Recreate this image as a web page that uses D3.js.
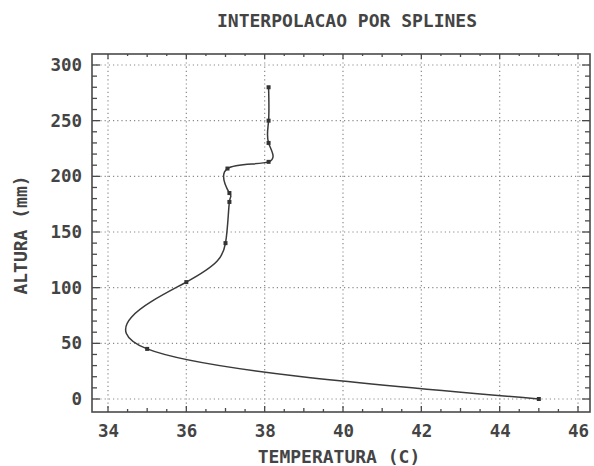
<!DOCTYPE html>
<html>
<head>
<meta charset="utf-8">
<script src="https://cdn.jsdelivr.net/npm/d3@7"></script>
<style>
  html, body { margin: 0; padding: 0; background: #fff; }
  svg { display: block; }
  text { font-family: "DejaVu Sans Mono", "Liberation Mono", monospace; font-weight: bold; fill: #444; }
</style>
</head>
<body>
<svg id="chart" width="594" height="466"></svg>
<script>
// ---- data ----
const temps   = [45.0, 35.0, 36.0, 37.0, 37.1, 37.1, 37.05, 38.1, 38.1, 38.1, 38.1];
const heights = [0, 45, 105, 140, 177, 185, 207, 213, 230, 250, 280];
const xTickLabels = [34, 36, 38, 40, 42, 44, 46];
const yTickLabels = [0, 50, 100, 150, 200, 250, 300];
const title = "INTERPOLACAO POR SPLINES";
const xTitle = "TEMPERATURA (C)";
const yTitle = "ALTURA (mm)";

// ---- layout ----
const svg = d3.select("#chart");
const frame = {left: 92, right: 590, top: 54, bottom: 412};
const x = d3.scaleLinear().domain([34, 46]).range([108, 578]);
const y = d3.scaleLinear().domain([0, 300]).range([399, 65]);
const ink = "#4a4a4a";

// gridlines (dotted)
const grid = svg.append("g").attr("stroke", "#8a8a8a").attr("stroke-width", 1.2)
  .attr("stroke-dasharray", "1.2,3");
grid.selectAll(".gx").data(xTickLabels).join("line")
  .attr("x1", d => x(d)).attr("x2", d => x(d))
  .attr("y1", frame.top).attr("y2", frame.bottom);
grid.selectAll(".gy").data(yTickLabels).join("line")
  .attr("x1", frame.left).attr("x2", frame.right)
  .attr("y1", d => y(d)).attr("y2", d => y(d));

// frame
svg.append("rect")
  .attr("x", frame.left).attr("y", frame.top)
  .attr("width", frame.right - frame.left).attr("height", frame.bottom - frame.top)
  .attr("fill", "none").attr("stroke", ink).attr("stroke-width", 1.6);

// ticks
const xMinor = d3.range(34, 46.01, 0.5);
const yMinor = d3.range(0, 300.1, 10);
const xLen = d => (d % 2 === 0 ? 6 : (d % 1 === 0 ? 4 : 3));
const yLen = d => (d % 50 === 0 ? 8 : 5);
const tk = svg.append("g").attr("stroke", ink).attr("stroke-width", 1.3);
tk.selectAll(".tb").data(xMinor).join("line")
  .attr("x1", d => x(d)).attr("x2", d => x(d))
  .attr("y1", frame.bottom).attr("y2", d => frame.bottom - xLen(d));
tk.selectAll(".tt").data(xMinor).join("line")
  .attr("x1", d => x(d)).attr("x2", d => x(d))
  .attr("y1", frame.top).attr("y2", d => frame.top + xLen(d) - 1);
tk.selectAll(".tl").data(yMinor).join("line")
  .attr("y1", d => y(d)).attr("y2", d => y(d))
  .attr("x1", frame.left).attr("x2", d => frame.left + yLen(d));
tk.selectAll(".tr").data(yMinor).join("line")
  .attr("y1", d => y(d)).attr("y2", d => y(d))
  .attr("x1", frame.right).attr("x2", d => frame.right - yLen(d));

// tick labels via d3 axes (tick marks hidden)
const xAxis = svg.append("g").attr("transform", `translate(0,${frame.bottom})`)
  .call(d3.axisBottom(x).tickValues(xTickLabels).tickSize(0).tickPadding(13));
const yAxis = svg.append("g").attr("transform", `translate(${frame.left},0)`)
  .call(d3.axisLeft(y).tickValues(yTickLabels).tickSize(0).tickPadding(10));
[xAxis, yAxis].forEach(g => {
  g.select(".domain").remove();
  g.selectAll("text").attr("font-size", 17.5).attr("font-family", "DejaVu Sans Mono")
    .attr("font-weight", "bold").attr("fill", "#444");
});
xAxis.selectAll("text").attr("dy", "0.71em");

// titles
svg.append("text").attr("x", 347).attr("y", 27).attr("text-anchor", "middle")
  .attr("font-size", 18).text(title);
svg.append("text").attr("x", 339).attr("y", 463).attr("text-anchor", "middle")
  .attr("font-size", 18).text(xTitle);
svg.append("text").attr("transform", "translate(27,235) rotate(-90)")
  .attr("text-anchor", "middle").attr("font-size", 18).text(yTitle);

// spline curve
const pts = temps.map((t, i) => [t, heights[i]]);
const line = d3.line().x(d => x(d[0])).y(d => y(d[1])).curve(d3.curveNatural);
svg.append("path").attr("d", line(pts)).attr("fill", "none")
  .attr("stroke", "#3a3a3a").attr("stroke-width", 1.5);

// knots
svg.selectAll(".pt").data(pts).join("rect")
  .attr("x", d => x(d[0]) - 2).attr("y", d => y(d[1]) - 2)
  .attr("width", 4).attr("height", 4).attr("fill", "#333");
</script>
</body>
</html>
